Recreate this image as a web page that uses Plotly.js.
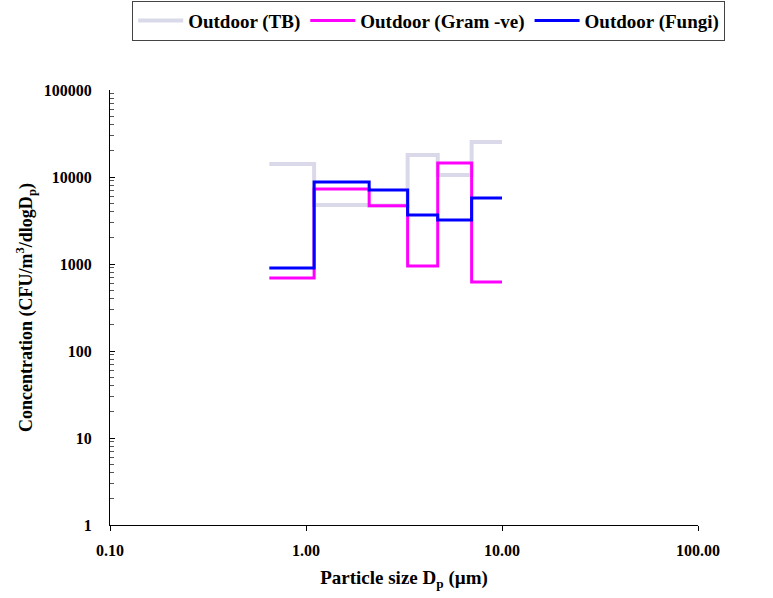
<!DOCTYPE html>
<html>
<head>
<meta charset="utf-8">
<script src="https://cdn.plot.ly/plotly-3.0.1.min.js"></script>
<style>html,body{margin:0;padding:0;background:#fff;}#chart{width:773px;height:598px;}</style>
</head>
<body>
<div id="chart"></div>
<script>
// Bin edges (particle size, µm) of the sampler stages; last value repeats for the step end
const binEdges = [0.65, 1.1, 2.1, 3.3, 4.7, 7.0, 10.0];
const seriesNames = ["Outdoor (TB)", "Outdoor (Gram -ve)", "Outdoor (Fungi)"];
const tbValues = [14100, 4770, 4700, 17900, 10550, 25250];
const gramNegValues = [690, 7280, 4680, 948, 14500, 621];
const fungiValues = [900, 8770, 7090, 3660, 3200, 5740];
const xTickVals = [0.1, 1, 10, 100];
const xTickText = ["0.10", "1.00", "10.00", "100.00"];
const yTickVals = [1, 10, 100, 1000, 10000, 100000];
const yTickText = ["1", "10", "100", "1000", "10000", "100000"];

function stepY(v) { return v.concat([v[v.length - 1]]); }

const serif = "Liberation Serif";
const traces = [
  {name: seriesNames[0], x: binEdges, y: stepY(tbValues), mode: "lines",
   line: {shape: "hv", color: "#d9d9ea", width: 4}},
  {name: seriesNames[1], x: binEdges, y: stepY(gramNegValues), mode: "lines",
   line: {shape: "hv", color: "#ff00ff", width: 3}},
  {name: seriesNames[2], x: binEdges, y: stepY(fungiValues), mode: "lines",
   line: {shape: "hv", color: "#0000ff", width: 3}}
];

const layout = {
  width: 773, height: 598,
  margin: {l: 110, r: 75, t: 90, b: 73},
  paper_bgcolor: "#fff", plot_bgcolor: "#fff",
  font: {family: serif, color: "#000", size: 16, weight: "bold"},
  showlegend: true,
  legend: {
    orientation: "h", xref: "container", yref: "container",
    x: 0.171, xanchor: "left", y: 0.999, yanchor: "top",
    bordercolor: "#444", borderwidth: 1, bgcolor: "#fff",
    font: {family: serif, size: 19, weight: "bold", color: "#000"},
    tracegroupgap: 0, itemwidth: 45
  },
  xaxis: {
    type: "log", range: [-1, 2], tickvals: xTickVals, ticktext: xTickText,
    showline: true, linecolor: "#000", linewidth: 1, mirror: false,
    ticks: "outside", ticklen: 5, tickcolor: "#000",
    showgrid: false, zeroline: false, automargin: false,
    tickfont: {family: serif, size: 16, weight: "bold"},
    ticklabelstandoff: 6,
    title: {text: "Particle size D<sub>p</sub> (µm)", font: {family: serif, size: 19, weight: "bold"}, standoff: 12}
  },
  yaxis: {
    type: "log", range: [0, 5], tickvals: yTickVals, ticktext: yTickText,
    showline: true, linecolor: "#000", linewidth: 1,
    ticks: "inside", ticklen: 5, tickcolor: "#000",
    minor: {ticks: "inside", ticklen: 4, tickcolor: "#555", dtick: "D1", showgrid: false},
    showgrid: false, zeroline: false, automargin: false,
    tickfont: {family: serif, size: 16, weight: "bold"},
    ticklabelstandoff: 14,
    title: {text: "Concentration (CFU/m<sup>3</sup>/dlogD<sub>p</sub>)", font: {family: serif, size: 18, weight: "bold"}, standoff: 6}
  }
};

Plotly.newPlot("chart", traces, layout, {displayModeBar: false, staticPlot: true});
</script>
</body>
</html>
